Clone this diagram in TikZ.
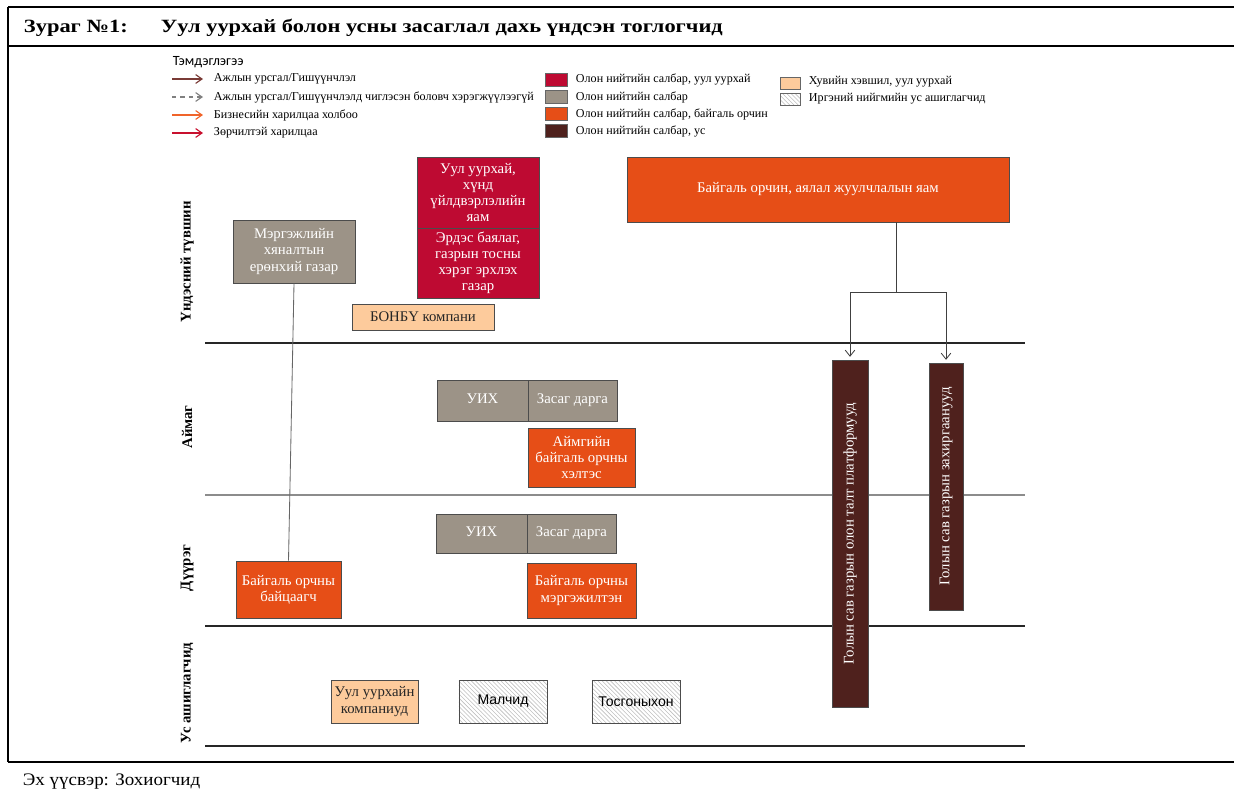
\documentclass[tikz,border=0pt]{standalone}
\usepackage{fontspec}
\setmainfont{Liberation Serif}
\newfontfamily\arialf{Liberation Sans}
\newfontfamily\calibf{Carlito}
\newfontfamily\titlef[FakeStretch=1.2]{Liberation Serif}
\newfontfamily\srcf[FakeStretch=1.08]{Liberation Serif}
\usetikzlibrary{arrows.meta,patterns}

\definecolor{uulred}{HTML}{BE0A32}
\definecolor{tgray}{HTML}{9C9387}
\definecolor{borange}{HTML}{E64E17}
\definecolor{usbrown}{HTML}{4F211D}
\definecolor{peach}{HTML}{FDCB9C}
\definecolor{arrbrown}{HTML}{7A3B36}
\definecolor{arrorange}{HTML}{F0642A}
\definecolor{arrred}{HTML}{C8102E}

\begin{document}
\begin{tikzpicture}[x=0.025cm, y=-0.025cm,
    box/.style = {draw=black!70, line width=0.5pt, align=center, inner sep=1pt,
      text=white, font=\fontsize{10.5}{11.5}\selectfont},
    red/.style = {box, fill=uulred},
    grey/.style = {box, fill=tgray},
    orng/.style = {box, fill=borange},
    brwn/.style = {box, fill=usbrown, rotate=90},
    priv/.style = {box, fill=peach, text=black!85},
    citz/.style = {box, pattern=north west lines, pattern color=black!25, text=black,
      font=\arialf\fontsize{10}{12}\selectfont},
    lvl/.style = {rotate=90, font=\bfseries\fontsize{10.5}{12}\selectfont},
    leg/.style = {anchor=west, font=\fontsize{8.6}{10}\selectfont},
    sq/.style = {draw=black!60, line width=0.4pt},
    layer/.style = {line width=0.9pt, black!85}]

\useasboundingbox (0,0) rectangle (1234,796);

% frame
\draw[line width=1.6pt] (8,7) -- (1234,7);
\draw[line width=1.6pt] (8,46) -- (1234,46);
\draw[line width=1.6pt] (8,762) -- (1234,762);
\draw[line width=1.6pt] (8,7) -- (8,762);
\node[anchor=west, font=\titlef\bfseries\fontsize{13.3}{15}\selectfont] (fig) at (19,28) {Зураг №1:};
\node[anchor=west, font=\titlef\bfseries\fontsize{13.3}{15}\selectfont] (title) at (156,28)
  {Уул уурхай болон усны засаглал дахь үндсэн тоглогчид};
\node[anchor=west, font=\srcf\fontsize{12.5}{14}\selectfont] (src) at (18,782) {Эх үүсвэр: Зохиогчид};

% legend
\node[leg, font=\calibf\fontsize{10}{11}\selectfont] (legtitle) at (168,62) {Тэмдэглэгээ};
\draw[arrbrown, line width=0.8pt, -{Straight Barb[length=1.6mm,width=2.2mm]}] (172,79) -- (203,79);
\draw[gray, line width=0.8pt, dashed, -{Straight Barb[length=1.6mm,width=2.2mm]}] (172,97) -- (203,97);
\draw[arrorange, line width=0.8pt, -{Straight Barb[length=1.6mm,width=2.2mm]}] (172,115) -- (203,115);
\draw[arrred, line width=0.8pt, -{Straight Barb[length=1.6mm,width=2.2mm]}] (172,133) -- (203,133);
\node[leg] (lega) at (209,79) {Ажлын урсгал/Гишүүнчлэл};
\node[leg] (legb) at (209,97) {Ажлын урсгал/Гишүүнчлэлд чиглэсэн боловч хэрэгжүүлээгүй};
\node[leg] (legc) at (209,115) {Бизнесийн харилцаа холбоо};
\node[leg] (legd) at (209,133) {Зөрчилтэй харилцаа};

\draw[sq, fill=uulred] (545,73) rectangle (567,86);
\draw[sq, fill=tgray] (545,90) rectangle (567,103);
\draw[sq, fill=borange] (545,107) rectangle (567,120);
\draw[sq, fill=usbrown] (545,124) rectangle (567,137);
\node[leg] (lege) at (571,79) {Олон нийтийн салбар, уул уурхай};
\node[leg] (legf) at (571,97) {Олон нийтийн салбар};
\node[leg] (legg) at (571,114) {Олон нийтийн салбар, байгаль орчин};
\node[leg] (legh) at (571,131) {Олон нийтийн салбар, ус};

\draw[sq, fill=peach] (780,77) rectangle (800,89);
\draw[sq, pattern=north west lines, pattern color=black!25] (780,93) rectangle (800,105);
\node[leg] (legi) at (804,82) {Хувийн хэвшил, уул уурхай};
\node[leg] (legj) at (804,99) {Иргэний нийгмийн ус ашиглагчид};

% levels
\draw[layer] (205,343) -- (1025,343);
\draw[layer, black!45] (205,495) -- (1025,495);
\draw[layer] (205,626) -- (1025,626);
\draw[layer] (205,746) -- (1025,746);
\node[lvl] (national) at (187,262) {Үндэсний түвшин};
\node[lvl] (aimag) at (187,427) {Аймаг};
\node[lvl] (duureg) at (187,568) {Дүүрэг};
\node[lvl] (users) at (187,693) {Ус ашиглагчид};

% national level
\node[grey, minimum width=3.05cm, minimum height=1.575cm] (mhg) at (294,251.5)
  {Мэргэжлийн\\хяналтын\\ерөнхий газар};
\node[red, minimum width=3.05cm, minimum height=1.775cm] (yam) at (478,192.5)
  {Уул уурхай,\\хүнд\\үйлдвэрлэлийн\\яам};
\node[red, minimum width=3.05cm, minimum height=1.75cm] (ebg) at (478,263)
  {Эрдэс баялаг,\\газрын тосны\\хэрэг эрхлэх\\газар};
\node[priv, minimum width=3.55cm, minimum height=0.65cm] (bonbu) at (423,317) {БОНБҮ компани};
\node[orng, minimum width=9.55cm, minimum height=1.625cm] (boajy) at (818,189.5)
  {Байгаль орчин, аялал жуулчлалын яам};

% basin boxes
\node[brwn, minimum width=8.675cm, minimum height=0.9cm] (platform) at (850,533.5)
  {Голын сав газрын олон талт платформууд};
\node[brwn, minimum width=6.175cm, minimum height=0.85cm] (zahirgaa) at (946,486.5)
  {Голын сав газрын захиргаанууд};

% aimag level
\node[grey, minimum width=2.275cm, minimum height=1.025cm] (uih1) at (482.5,400.5) {\strut УИХ};
\node[grey, minimum width=2.225cm, minimum height=1.025cm] (zd1) at (572.5,400.5) {\strut Засаг дарга};
\node[orng, minimum width=2.675cm, minimum height=1.475cm] (heltes) at (581.5,457.5)
  {Аймгийн\\байгаль орчны\\хэлтэс};

% duureg level
\node[grey, minimum width=2.275cm, minimum height=0.975cm] (uih2) at (481.5,533.5) {\strut УИХ};
\node[grey, minimum width=2.225cm, minimum height=0.975cm] (zd2) at (571.5,533.5) {\strut Засаг дарга};
\node[orng, minimum width=2.725cm, minimum height=1.375cm] (mergejilten) at (581.5,590.5)
  {Байгаль орчны\\мэргэжилтэн};
\node[orng, minimum width=2.625cm, minimum height=1.425cm] (baitsaagch) at (288.5,589.5)
  {Байгаль орчны\\байцаагч};

% water users
\node[priv, minimum width=2.175cm, minimum height=1.075cm] (uukomp) at (374.5,701.5)
  {Уул уурхайн\\компаниуд};
\node[citz, minimum width=2.2cm, minimum height=1.075cm] (malchid) at (503,701.5) {Малчид};
\node[citz, minimum width=2.2cm, minimum height=1.075cm] (tosgon) at (636,701.5) {Тосгоныхон};

% connectors
\draw[black!60, line width=0.6pt] (mhg.south) -- (baitsaagch.north);
\coordinate (split) at (896,292);
\draw[black!75, line width=0.6pt] (split |- boajy.south) -- (split);
\draw[black!75, line width=0.6pt, -{Straight Barb[length=1.5mm,width=2.4mm]}, shorten >=2pt]
  (split) -| (platform.east);
\draw[black!75, line width=0.6pt, -{Straight Barb[length=1.5mm,width=2.4mm]}, shorten >=2pt]
  (split) -| (zahirgaa.east);
\end{tikzpicture}
\end{document}
